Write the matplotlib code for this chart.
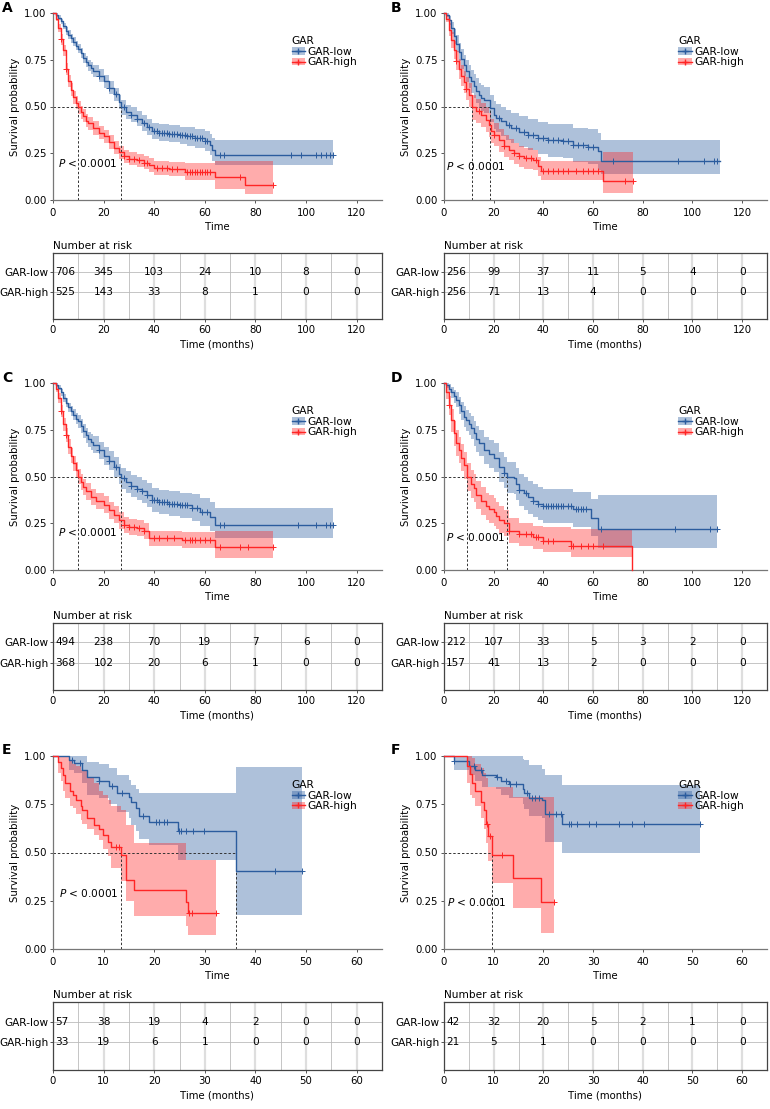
import numpy as np
import matplotlib.pyplot as plt
from matplotlib.patches import Patch
from matplotlib.lines import Line2D

# ---- panel A ----
a_low_t = [0, 1, 2, 3, 4, 5, 6, 7, 8, 9, 10, 11, 12, 13, 14, 15, 16, 18, 20, 22, 24, 26, 27, 29, 31, 33, 35, 37, 39, 42, 46, 50, 53, 56, 60, 62, 63, 64, 110.5]
a_low_s = [1.0, .99, .975, .955, .93, .905, .885, .865, .845, .825, .81, .785, .76, .74, .72, .705, .69, .665, .635, .60, .565, .525, .495, .47, .455, .435, .41, .39, .37, .36, .355, .345, .34, .33, .315, .295, .27, .24, .24]
a_low_lo = [1.0, .98, .962, .94, .912, .885, .863, .842, .821, .80, .784, .758, .732, .711, .69, .674, .658, .632, .601, .565, .529, .488, .457, .431, .415, .394, .368, .347, .326, .315, .309, .297, .291, .279, .262, .238, .208, .185, .185]
a_low_hi = [1.0, 1.0, .988, .97, .948, .925, .907, .888, .869, .85, .836, .812, .788, .769, .75, .736, .722, .698, .669, .635, .601, .562, .533, .509, .495, .476, .452, .433, .414, .405, .401, .393, .389, .381, .368, .352, .332, .32, .32]
a_low_cens = [18, 22, 25, 28, 31, 33, 36, 38, 40, 41, 42, 43, 44, 45, 46, 47, 48, 49, 50, 51, 52, 53, 54, 55, 56, 57, 58, 59, 60, 61, 66, 67.5, 94, 98, 104, 106, 108, 109.5, 110.5]
a_high_t = [0, 1, 2, 3, 4, 5, 6, 7, 8, 9, 10, 11, 12, 13, 14, 16, 18, 20, 22, 24, 26, 28, 30, 33, 36, 38, 40, 46, 52, 64, 76, 87]
a_high_s = [1.0, .97, .92, .86, .80, .70, .635, .59, .55, .52, .495, .47, .45, .425, .41, .385, .36, .34, .31, .28, .255, .235, .22, .212, .20, .185, .17, .165, .152, .125, .08, .08]
a_high_lo = [1.0, .955, .90, .83, .77, .668, .602, .557, .516, .486, .461, .435, .415, .39, .375, .35, .325, .305, .275, .245, .22, .20, .185, .177, .164, .148, .133, .127, .107, .06, .03, .03]
a_high_hi = [1.0, .985, .94, .89, .83, .732, .668, .623, .584, .554, .529, .505, .485, .46, .445, .42, .395, .375, .345, .315, .29, .27, .255, .247, .236, .222, .207, .203, .20, .21, .21, .21]
a_high_cens = [3, 5, 28, 30, 32, 34, 36, 37, 41, 43, 45, 47, 49, 53, 54, 55, 56, 57, 58, 59, 60, 61, 62, 74, 87]
a_risk_low = [706, 345, 103, 24, 10, 8, 0]
a_risk_high = [525, 143, 33, 8, 1, 0, 0]

# ---- panel B ----
b_low_t = [0, 1, 2, 3, 4, 5, 6, 7, 8, 9, 10, 11, 12, 13, 14, 15, 16, 18.5, 20, 21, 23, 25, 27, 30, 34, 38, 42, 48, 52, 58, 62, 63, 111]
b_low_s = [1.0, .99, .96, .92, .875, .835, .79, .755, .72, .69, .66, .635, .61, .585, .56, .545, .535, .49, .455, .44, .42, .40, .385, .366, .35, .33, .32, .316, .295, .285, .26, .21, .21]
b_low_lo = [1.0, .978, .935, .888, .836, .79, .742, .703, .665, .632, .60, .573, .546, .519, .492, .476, .465, .417, .38, .364, .342, .321, .305, .284, .266, .244, .232, .226, .203, .19, .163, .14, .14]
b_low_hi = [1.0, 1.0, .985, .952, .914, .88, .838, .807, .775, .748, .72, .697, .674, .651, .628, .614, .605, .563, .53, .516, .498, .479, .465, .448, .434, .416, .408, .406, .387, .38, .357, .32, .32]
b_low_cens = [22, 26, 29, 32, 34, 36, 38, 40, 42, 44, 46, 48, 50, 52, 54, 56, 58, 60, 68, 94, 104.5, 108.5, 110]
b_high_t = [0, 1, 2, 3, 4, 5, 6, 7, 8, 9, 10, 11.2, 13, 15, 17, 18, 19, 20, 22, 24, 26, 28, 30, 32, 36, 38, 39, 64, 76]
b_high_s = [1.0, .97, .91, .855, .80, .745, .70, .665, .63, .595, .56, .495, .475, .455, .43, .40, .37, .35, .32, .29, .27, .25, .235, .223, .214, .18, .155, .10, .10]
b_high_lo = [1.0, .95, .875, .812, .752, .693, .645, .608, .571, .534, .497, .43, .41, .39, .365, .335, .307, .287, .259, .231, .212, .193, .179, .168, .159, .128, .105, .04, .04]
b_high_hi = [1.0, .99, .945, .898, .848, .797, .755, .722, .689, .656, .623, .56, .54, .52, .495, .465, .433, .413, .381, .349, .328, .307, .291, .278, .269, .232, .21, .255, .255]
b_high_cens = [5, 9, 14, 20, 24, 28, 30, 33, 35, 37, 40, 42, 44, 46, 48, 50, 53, 56, 58, 60, 62, 73, 76]
b_risk_low = [256, 99, 37, 11, 5, 4, 0]
b_risk_high = [256, 71, 13, 4, 0, 0, 0]

# ---- panel C ----
c_low_t = [0, 1, 2, 3, 4, 5, 6, 7, 8, 9, 10, 11, 12, 13, 14, 15, 16, 18, 20, 22, 24, 26, 27, 29, 31, 33, 35, 37, 39, 42, 46, 50, 55, 58, 62, 64, 110.5]
c_low_s = [1.0, .99, .975, .95, .92, .895, .87, .85, .83, .81, .795, .77, .745, .72, .70, .685, .67, .64, .61, .585, .55, .515, .49, .47, .45, .435, .42, .40, .375, .362, .355, .345, .334, .31, .286, .24, .24]
c_low_lo = [1.0, .98, .96, .932, .90, .872, .845, .823, .801, .779, .762, .735, .708, .681, .66, .643, .626, .594, .562, .535, .498, .461, .435, .413, .392, .375, .359, .337, .311, .297, .289, .277, .264, .237, .21, .17, .17]
c_low_hi = [1.0, 1.0, .99, .968, .94, .918, .895, .877, .859, .841, .828, .805, .782, .759, .74, .727, .714, .686, .658, .635, .602, .569, .545, .527, .508, .495, .481, .463, .439, .427, .421, .413, .404, .383, .362, .334, .334]
c_low_cens = [18, 22, 25, 28, 31, 33, 35, 37, 39, 40, 41, 42, 43, 44, 45, 46, 47, 48, 49, 50, 51, 52, 53, 55, 57, 59, 61, 66, 67.5, 97, 104, 108, 109.5, 110.5]
c_high_t = [0, 1, 2, 3, 4, 5, 6, 7, 8, 9, 10, 11, 12, 13, 15, 17, 20, 22, 24, 26, 28, 30, 33, 36, 38, 51, 64, 87]
c_high_s = [1.0, .97, .92, .85, .78, .72, .66, .61, .57, .535, .50, .47, .446, .42, .39, .37, .35, .32, .295, .265, .24, .23, .223, .21, .17, .16, .125, .125]
c_high_lo = [1.0, .95, .895, .82, .745, .683, .621, .57, .529, .493, .458, .427, .403, .376, .346, .326, .305, .275, .25, .221, .197, .187, .18, .167, .13, .117, .065, .065]
c_high_hi = [1.0, .99, .945, .88, .815, .757, .699, .65, .611, .577, .542, .513, .489, .464, .434, .414, .395, .365, .34, .309, .283, .273, .266, .253, .21, .205, .21, .21]
c_high_cens = [3, 5, 28, 30, 32, 34, 36, 40, 42, 45, 48, 52, 54, 55, 56, 58, 60, 62, 66, 74, 77, 87]
c_risk_low = [494, 238, 70, 19, 7, 6, 0]
c_risk_high = [368, 102, 20, 6, 1, 0, 0]

# ---- panel D ----
d_low_t = [0, 1, 2, 3, 4, 5, 6, 7, 8, 9, 10, 11, 12, 13, 14, 16, 18, 20, 22, 24, 25.3, 28, 29, 30, 32, 34, 36, 38, 40, 52, 59, 62, 110]
d_low_s = [1.0, .99, .97, .95, .93, .91, .88, .85, .82, .80, .78, .76, .73, .70, .68, .64, .62, .60, .55, .52, .495, .49, .46, .43, .41, .39, .37, .355, .344, .325, .28, .22, .22]
d_low_lo = [1.0, .975, .945, .92, .895, .87, .835, .80, .765, .742, .72, .698, .665, .632, .61, .567, .545, .523, .47, .438, .412, .405, .375, .344, .323, .302, .281, .265, .253, .232, .182, .12, .12]
d_low_hi = [1.0, 1.0, .995, .98, .965, .95, .925, .90, .875, .858, .84, .822, .795, .768, .75, .713, .695, .677, .63, .602, .578, .575, .545, .516, .497, .478, .459, .445, .435, .418, .378, .40, .40]
d_low_cens = [24, 30, 33, 36, 38, 40, 41, 42, 43, 44, 45, 46, 47, 48, 50, 51, 53, 54, 55, 56, 57, 63, 93, 107, 110]
d_high_t = [0, 1, 2, 3, 4, 5, 6, 7, 8, 9.3, 11, 12, 13, 15, 17, 18, 20, 21, 22, 24, 26, 30, 36, 40, 51, 75.5]
d_high_s = [1.0, .95, .88, .80, .73, .68, .64, .60, .56, .495, .46, .44, .40, .37, .34, .325, .31, .29, .27, .25, .21, .19, .175, .154, .127, 0.0]
d_high_lo = [1.0, .915, .83, .74, .665, .612, .57, .528, .487, .42, .385, .365, .325, .295, .266, .251, .236, .218, .199, .18, .144, .126, .113, .094, .072, 0.0]
d_high_hi = [1.0, .985, .93, .86, .795, .748, .71, .672, .633, .57, .535, .515, .475, .445, .414, .399, .384, .362, .341, .32, .276, .254, .237, .23, .217, 0.0]
d_high_cens = [2, 26, 30, 33, 35, 37, 38, 40, 42, 44, 51, 52, 55, 58, 60, 64]
d_risk_low = [212, 107, 33, 5, 3, 2, 0]
d_risk_high = [157, 41, 13, 2, 0, 0, 0]

# ---- panel E ----
e_low_t = [0, 3.2, 4.2, 5.8, 6.7, 9.1, 11.1, 12.7, 15.0, 15.4, 16.4, 16.9, 19.0, 24.6, 36.2, 49.1]
e_low_s = [1.0, .98, .965, .93, .89, .87, .845, .81, .79, .76, .73, .69, .66, .61, .405, .405]
e_low_lo = [1.0, .93, .91, .86, .80, .78, .75, .71, .68, .645, .61, .57, .54, .46, .175, .175]
e_low_hi = [1.0, 1.0, 1.0, 1.0, .97, .96, .94, .90, .876, .85, .83, .81, .81, .81, .945, .945]
e_low_cens = [3.8, 5.4, 9.1, 11.7, 13.7, 17.7, 20.3, 21.0, 22.0, 22.6, 24.8, 25.3, 26.3, 27.6, 29.9, 43.8, 49.1]
e_high_t = [0, 0.9, 1.5, 2.0, 2.4, 3.3, 4.0, 4.5, 5.5, 5.8, 6.8, 8.1, 9.1, 9.8, 10.8, 11.4, 13.4, 14.4, 16.0, 26.3, 26.6, 32.2]
e_high_s = [1.0, .97, .936, .90, .86, .82, .80, .77, .74, .72, .68, .64, .62, .59, .556, .53, .487, .36, .306, .245, .185, .185]
e_high_lo = [1.0, .91, .87, .82, .78, .74, .73, .70, .67, .65, .62, .59, .565, .52, .48, .42, .35, .25, .17, .12, .07, .07]
e_high_hi = [1.0, 1.0, 1.0, 1.0, 1.0, .98, .96, .95, .93, .92, .89, .86, .82, .80, .77, .74, .72, .64, .55, .46, .46, .46]
e_high_cens = [12.4, 13.0, 26.9, 27.4, 32.2]
e_risk_low = [57, 38, 19, 4, 2, 0, 0]
e_risk_high = [33, 19, 6, 1, 0, 0, 0]

# ---- panel F ----
f_low_t = [0, 2.0, 5.0, 6.2, 7.7, 10.4, 11.4, 13.1, 15.8, 16.1, 17.1, 19.8, 20.3, 23.8, 51.6]
f_low_s = [1.0, .975, .95, .925, .90, .89, .87, .855, .83, .81, .78, .77, .70, .65, .65]
f_low_lo = [1.0, .93, .90, .87, .84, .83, .80, .78, .75, .725, .69, .68, .555, .495, .495]
f_low_hi = [1.0, 1.0, 1.0, 1.0, 1.0, 1.0, 1.0, 1.0, .985, .98, .955, .935, .90, .85, .85]
f_low_cens = [2.0, 6.0, 7.4, 10.6, 12.4, 13.3, 14.4, 16.8, 17.8, 18.4, 19.1, 21.1, 22.5, 23.5, 25.1, 25.5, 26.8, 29.2, 30.5, 35.2, 37.9, 40.2, 51.6]
f_high_t = [0, 4.7, 5.2, 5.7, 6.2, 7.4, 8.1, 8.4, 8.9, 9.7, 13.9, 19.5, 22.1]
f_high_s = [1.0, .95, .905, .86, .82, .76, .72, .65, .585, .487, .37, .243, .243]
f_high_lo = [1.0, .86, .80, .78, .74, .68, .62, .55, .457, .344, .21, .085, .085]
f_high_hi = [1.0, 1.0, 1.0, .99, .96, .94, .91, .885, .84, .84, .79, .79, .79]
f_high_cens = [8.7, 9.2, 11.7, 22.1]
f_risk_low = [42, 32, 20, 5, 2, 1, 0]
f_risk_high = [21, 5, 1, 0, 0, 0, 0]

BLUE = "#2B5C9E"
RED = "#FF2525"
GREY = "#555555"
FS = 7.3

plt.rcParams["font.family"] = ["DejaVu Sans"]


def surv_at(t, s, x):
    i = np.searchsorted(np.asarray(t), x, side="right") - 1
    return np.asarray(s)[i]


def draw_km(ax, low, high, xmax, xstep, pxy):
    for (t, s, lo, hi, cens), col in ((low, BLUE), (high, RED)):
        ax.fill_between(t, lo, hi, step="post", color=col, alpha=0.38, lw=0)
    for (t, s, lo, hi, cens), col in ((low, BLUE), (high, RED)):
        ax.step(t, s, where="post", color=col, lw=1.0, clip_on=False, zorder=3)
        ax.plot(cens, surv_at(t, s, cens), "+", color=col, ms=4, mew=0.7, zorder=3)

    # median lines
    meds = []
    for t, s, lo, hi, cens in (low, high):
        below = np.where(np.asarray(s) <= 0.5)[0]
        if len(below):
            meds.append(t[below[0]])
    if meds:
        ax.plot([0, max(meds)], [0.5, 0.5], ls=(0, (2.5, 2)), color="#333333", lw=0.7)
        for m in meds:
            ax.plot([m, m], [0, 0.5], ls=(0, (2.5, 2)), color="#333333", lw=0.7)

    ax.text(pxy[0], pxy[1], "$P$ < 0.0001", fontsize=FS + 0.3, ha="left", va="center")

    ax.set_xlim(0, xmax)
    ax.set_ylim(0, 1)
    ax.set_xticks(np.arange(0, xmax, xstep))
    ax.set_yticks([0, 0.25, 0.5, 0.75, 1.0])
    ax.set_yticklabels(["0.00", "0.25", "0.50", "0.75", "1.00"])
    ax.set_xlabel("Time", fontsize=FS, labelpad=3)
    ax.set_ylabel("Survival probability", fontsize=FS, labelpad=3)
    for side in ("top", "right"):
        ax.spines[side].set_visible(False)
    for side in ("left", "bottom"):
        ax.spines[side].set_color("#777777")
        ax.spines[side].set_linewidth(0.9)
    ax.tick_params(labelsize=FS, length=2.5, width=0.7, color=GREY, pad=2)
    ax.tick_params(axis="x", pad=3)

    handles = [
        (Patch(facecolor=BLUE, alpha=0.38, lw=0), Line2D([], [], color=BLUE, marker="+", lw=1, ms=4)),
        (Patch(facecolor=RED, alpha=0.38, lw=0), Line2D([], [], color=RED, marker="+", lw=1, ms=4)),
    ]
    ax.legend(handles, ["GAR-low", "GAR-high"], title="GAR", loc="upper left",
              bbox_to_anchor=(0.725, 0.875), frameon=False, fontsize=FS + 0.4,
              title_fontsize=FS + 0.4, alignment="left", handlelength=1.3,
              handletextpad=0.2, labelspacing=0.05, borderpad=0, borderaxespad=0)


def draw_risk(ax, n_low, n_high, xmax, xstep):
    ticks = np.arange(0, xmax, xstep)
    ax.set_xlim(0, xmax)
    ax.set_ylim(0, 1)
    rows = [0.71, 0.41]
    for x in ticks:
        ax.axvline(x, color="#DEDEDE", lw=1.6, zorder=0)
    for x in ticks + xstep / 2:
        ax.axvline(x, color="#BBBBBB", lw=0.6, zorder=0)
    for y in rows:
        ax.axhline(y, color="#BBBBBB", lw=0.6, zorder=0)
    for row, vals in zip(rows, (n_low, n_high)):
        for i, (x, v) in enumerate(zip(ticks, vals)):
            if i == 0:
                ax.text(x + xmax * 0.006, row, str(v), ha="left", va="center", fontsize=FS + 0.3)
            else:
                ax.text(x, row, str(v), ha="center", va="center", fontsize=FS + 0.3)
    ax.set_xticks(ticks)
    ax.set_yticks(rows)
    ax.set_yticklabels(["GAR-low", "GAR-high"])
    ax.tick_params(labelsize=FS + 0.3, length=2.5, width=0.7, color=GREY, pad=1)
    ax.tick_params(axis="x", labelsize=FS, pad=2)
    for sp in ax.spines.values():
        sp.set_color("#444444")
        sp.set_linewidth(0.9)
    ax.set_title("Number at risk", loc="left", fontsize=FS + 0.3, pad=3)
    ax.set_xlabel("Time (months)", fontsize=FS, labelpad=3)


fig = plt.figure(figsize=(7.7, 11.09), dpi=100)
H = 1109.0
W = 770.0

panels = [
    ("A", (a_low_t, a_low_s, a_low_lo, a_low_hi, a_low_cens),
     (a_high_t, a_high_s, a_high_lo, a_high_hi, a_high_cens), a_risk_low, a_risk_high,
     130, 20, (2, 0.2), 0, 0),
    ("B", (b_low_t, b_low_s, b_low_lo, b_low_hi, b_low_cens),
     (b_high_t, b_high_s, b_high_lo, b_high_hi, b_high_cens), b_risk_low, b_risk_high,
     130, 20, (1, 0.18), 1, 0),
    ("C", (c_low_t, c_low_s, c_low_lo, c_low_hi, c_low_cens),
     (c_high_t, c_high_s, c_high_lo, c_high_hi, c_high_cens), c_risk_low, c_risk_high,
     130, 20, (2, 0.205), 0, 1),
    ("D", (d_low_t, d_low_s, d_low_lo, d_low_hi, d_low_cens),
     (d_high_t, d_high_s, d_high_lo, d_high_hi, d_high_cens), d_risk_low, d_risk_high,
     130, 20, (0.7, 0.177), 1, 1),
    ("E", (e_low_t, e_low_s, e_low_lo, e_low_hi, e_low_cens),
     (e_high_t, e_high_s, e_high_lo, e_high_hi, e_high_cens), e_risk_low, e_risk_high,
     65, 10, (1.1, 0.29), 0, 2),
    ("F", (f_low_t, f_low_s, f_low_lo, f_low_hi, f_low_cens),
     (f_high_t, f_high_s, f_high_lo, f_high_hi, f_high_cens), f_risk_low, f_risk_high,
     65, 10, (0.7, 0.245), 1, 2),
]

col_x = [(53, 382), (444, 767)]
plot_y = [(13, 200), (383, 570), (756, 949)]
table_y = [(253, 319), (623, 690), (1002, 1070)]
letter_y = [1, 371, 743]

for letter, low, high, rl, rh, xmax, xstep, pxy, col, row in panels:
    x0, x1 = col_x[col]
    y0, y1 = plot_y[row]
    ax = fig.add_axes([x0 / W, 1 - y1 / H, (x1 - x0) / W, (y1 - y0) / H])
    draw_km(ax, low, high, xmax, xstep, pxy)
    t0, t1 = table_y[row]
    axt = fig.add_axes([x0 / W, 1 - t1 / H, (x1 - x0) / W, (t1 - t0) / H])
    draw_risk(axt, rl, rh, xmax, xstep)
    lx = 2 if col == 0 else 391
    fig.text(lx / W, 1 - letter_y[row] / H, letter, fontsize=10, fontweight="bold",
             ha="left", va="top")

fig.savefig("out.png", dpi=100)
